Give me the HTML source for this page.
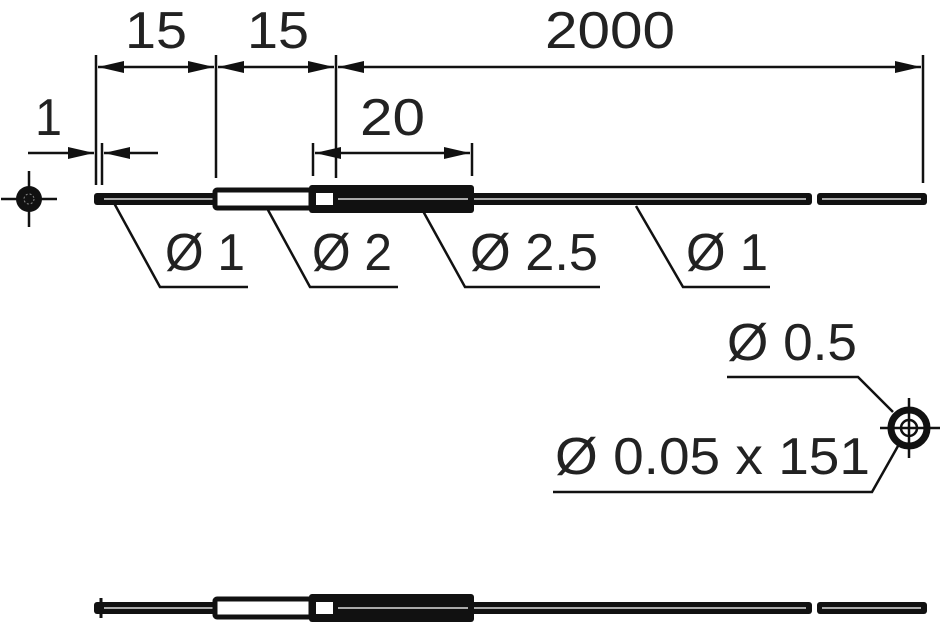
<!DOCTYPE html>
<html><head><style>body{margin:0;background:#fff}svg{display:block}text{font-family:"Liberation Sans",sans-serif;font-size:52px;fill:#222}</style></head><body>
<svg width="940" height="627" viewBox="0 0 940 627" xmlns="http://www.w3.org/2000/svg">
<defs>
<marker id="a" markerWidth="26" markerHeight="12" refX="26" refY="6" orient="auto-start-reverse" markerUnits="userSpaceOnUse"><path d="M0,0 L26,6 L0,12 Z" fill="#111"/></marker>
<g id="rod">
<rect x="94" y="-6" width="718" height="12" rx="3" fill="#111"/>
<rect x="817" y="-6" width="110" height="12" rx="3" fill="#111"/>
<line x1="104" y1="0" x2="806" y2="0" stroke="#aaa" stroke-width="2"/>
<line x1="822" y1="0" x2="921" y2="0" stroke="#aaa" stroke-width="2"/>
<rect x="215" y="-9" width="96" height="18" rx="2" fill="#fff" stroke="#111" stroke-width="5"/>
<rect x="309" y="-14" width="165" height="28" rx="3" fill="#111"/>
<rect x="316" y="-6" width="17" height="12" fill="#fff"/>
<line x1="338" y1="0" x2="468" y2="0" stroke="#aaa" stroke-width="2"/>
</g>
</defs>
<g stroke="#111" stroke-width="2.5" fill="none">
<line x1="96" y1="55" x2="96" y2="185"/>
<line x1="216" y1="55" x2="216" y2="178"/>
<line x1="336" y1="55" x2="336" y2="178"/>
<line x1="923" y1="55" x2="923" y2="183"/>
<line x1="98" y1="67" x2="214" y2="67" marker-start="url(#a)" marker-end="url(#a)"/>
<line x1="218" y1="67" x2="334" y2="67" marker-start="url(#a)" marker-end="url(#a)"/>
<line x1="338" y1="67" x2="921" y2="67" marker-start="url(#a)" marker-end="url(#a)"/>
<line x1="313" y1="143" x2="313" y2="176"/>
<line x1="472" y1="143" x2="472" y2="176"/>
<line x1="315" y1="153" x2="470" y2="153" marker-start="url(#a)" marker-end="url(#a)"/>
<line x1="102" y1="143" x2="102" y2="185"/>
<line x1="28" y1="153" x2="94" y2="153" marker-end="url(#a)"/>
<line x1="158" y1="153" x2="104" y2="153" marker-end="url(#a)"/>
<polyline points="114,203 160,287 248,287"/>
<polyline points="268,210 310,287 398,287"/>
<polyline points="423,211 465,287 600,287"/>
<polyline points="636,206 683,287 770,287"/>
<line x1="1" y1="199" x2="57" y2="199"/><line x1="29" y1="171" x2="29" y2="227"/>
<polyline points="727,377 858,377 893,412"/>
<polyline points="898,446 872,492 553,492"/>
<line x1="880" y1="428" x2="940" y2="428"/><line x1="909" y1="398" x2="909" y2="458"/>
</g>
<circle cx="29" cy="199" r="13" fill="#111"/><circle cx="29" cy="199" r="5" fill="none" stroke="#888" stroke-width="1" stroke-dasharray="2,2"/>
<circle cx="909" cy="428" r="18" fill="none" stroke="#111" stroke-width="7"/>
<circle cx="909" cy="428" r="8" fill="none" stroke="#111" stroke-width="2.5"/>
<use href="#rod" y="199"/>
<use href="#rod" y="608"/>
<line x1="101" y1="598" x2="101" y2="618" stroke="#111" stroke-width="3"/>
<g lengthAdjust="spacingAndGlyphs">
<text x="125" y="48" textLength="62" lengthAdjust="spacingAndGlyphs">15</text>
<text x="247" y="48" textLength="62" lengthAdjust="spacingAndGlyphs">15</text>
<text x="545" y="48" textLength="130" lengthAdjust="spacingAndGlyphs">2000</text>
<text x="35" y="135" textLength="27" lengthAdjust="spacingAndGlyphs">1</text>
<text x="360" y="135" textLength="65" lengthAdjust="spacingAndGlyphs">20</text>
<text x="165" y="270" textLength="80" lengthAdjust="spacingAndGlyphs">Ø 1</text>
<text x="312" y="270" textLength="80" lengthAdjust="spacingAndGlyphs">Ø 2</text>
<text x="470" y="270" textLength="128" lengthAdjust="spacingAndGlyphs">Ø 2.5</text>
<text x="686" y="270" textLength="82" lengthAdjust="spacingAndGlyphs">Ø 1</text>
<text x="727" y="360" textLength="130" lengthAdjust="spacingAndGlyphs">Ø 0.5</text>
<text x="555" y="474" textLength="315" lengthAdjust="spacingAndGlyphs">Ø 0.05 x 151</text>
</g>
</svg>
</body></html>
